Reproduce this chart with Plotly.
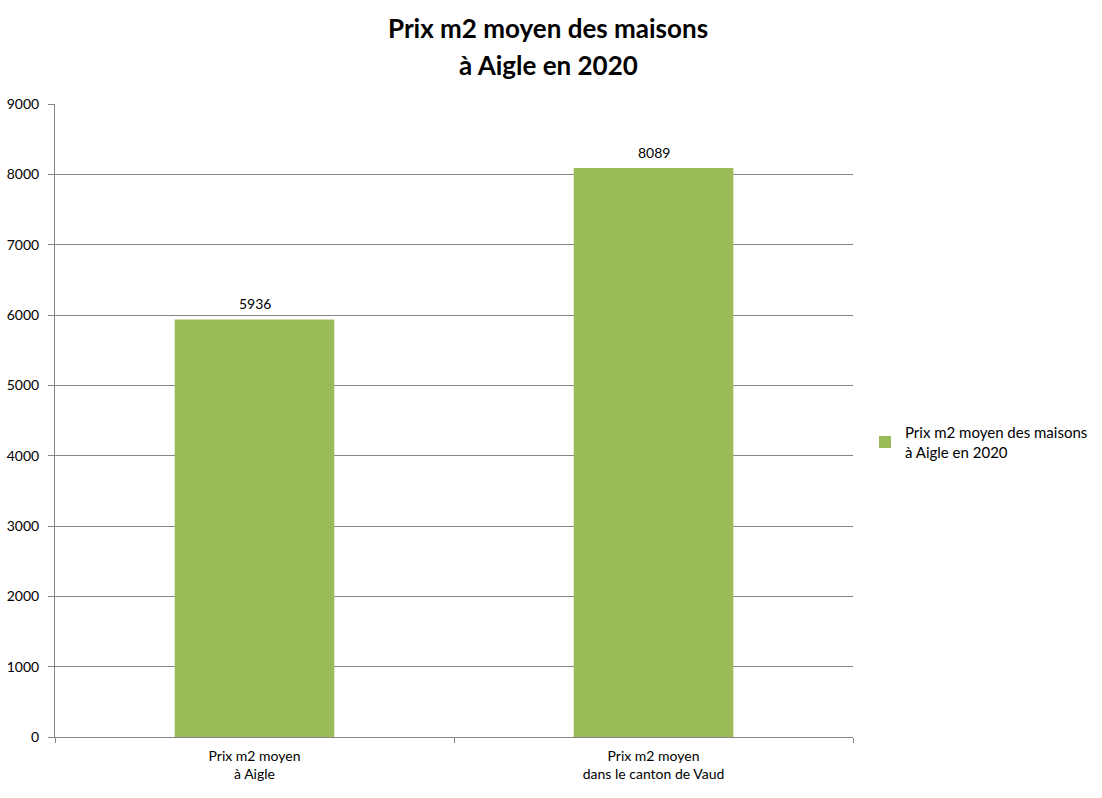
import plotly.graph_objects as go

categories = ["Prix m2 moyen<br>à Aigle", "Prix m2 moyen<br>dans le canton de Vaud"]
values = [5936, 8089]
series_name = "Prix m2 moyen des maisons<br>à Aigle en 2020"
title_lines = ["Prix m2 moyen des maisons", "à Aigle en 2020"]
y_ticks = [0, 1000, 2000, 3000, 4000, 5000, 6000, 7000, 8000, 9000]

FONT = "Lato, 'Open Sans', sans-serif"

fig = go.Figure()
fig.add_trace(go.Bar(
    x=categories, y=values, name=series_name,
    marker=dict(color="#9BBB59", line=dict(width=0)),
    width=0.4,
    showlegend=True,
))

for c, v in zip(categories, values):
    fig.add_annotation(x=c, y=v, text=str(v), showarrow=False, yshift=16, yanchor="middle",
                       font=dict(size=14, family=FONT, color="#000000"))

for line, ypos in zip(title_lines, [1.120, 1.0616]):
    fig.add_annotation(x=(548 - 55) / 798, xref="paper", y=ypos, yref="paper", xanchor="center",
                       yanchor="middle", text="<b>" + line + "</b>", showarrow=False,
                       font=dict(size=26, family=FONT, color="#000000"))

fig.update_layout(
    width=1102, height=798,
    margin=dict(l=55, r=249, t=104, b=61, autoexpand=False),
    paper_bgcolor="white", plot_bgcolor="white",
    font=dict(family=FONT, size=14, color="#000000"),
    showlegend=True,
    legend=dict(x=865 / 1102, xref="container", y=1 - 442 / 798, yref="container",
                xanchor="left", yanchor="middle",
                font=dict(size=15, family=FONT, color="#000000"),
                bgcolor="rgba(0,0,0,0)", itemwidth=30, tracegroupgap=0),
)
fig.update_yaxes(range=[0, 9000], tickvals=y_ticks, showgrid=True, gridcolor="#868686", gridwidth=1,
                 showline=True, linecolor="#868686", linewidth=1, ticks="outside", ticklen=6,
                 tickcolor="#868686", zeroline=False, tickfont=dict(size=14), ticklabelstandoff=6,
                 automargin=False)
fig.update_xaxes(showline=True, linecolor="#868686", linewidth=1, ticks="outside", ticklen=5,
                 tickcolor="#868686", tickson="boundaries", showgrid=False, tickfont=dict(size=14),
                 ticklabelstandoff=6, automargin=False)

fig.write_html("out.html")
